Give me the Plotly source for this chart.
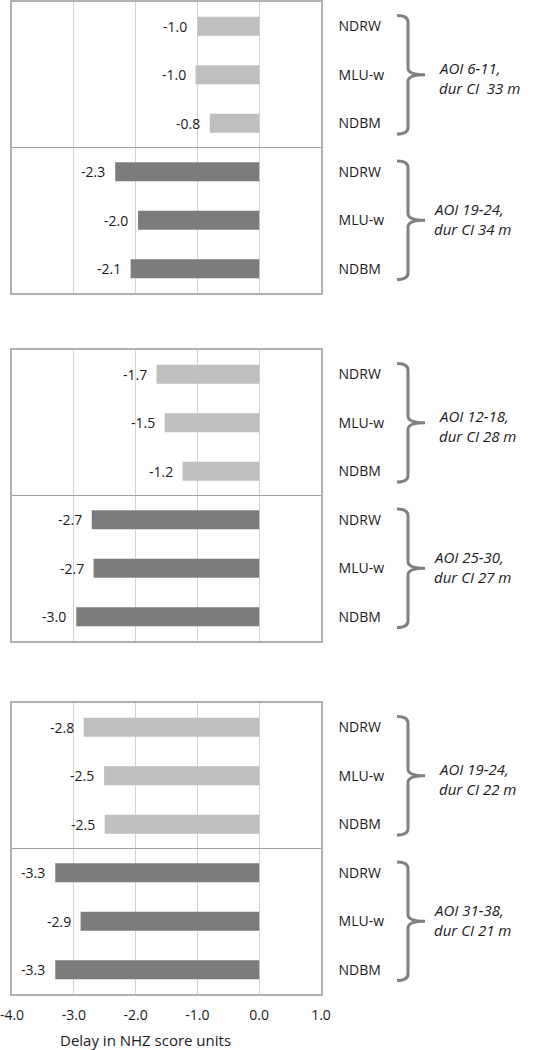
import plotly.graph_objects as go

# ---- data ----
categories = ["NDRW", "MLU-w", "NDBM", "NDRW", "MLU-w", "NDBM"]
panel1_values = [-1.00, -1.03, -0.80, -2.33, -1.96, -2.08]
panel2_values = [-1.66, -1.53, -1.24, -2.71, -2.68, -2.96]
panel3_values = [-2.84, -2.51, -2.50, -3.30, -2.89, -3.30]
panel_values = [panel1_values, panel2_values, panel3_values]
group_labels = [
    ["AOI 6-11,<br>dur CI\u00a0 33 m", "AOI 19-24,<br>dur CI 34 m"],
    ["AOI 12-18,<br>dur CI 28 m", "AOI 25-30,<br>dur CI 27 m"],
    ["AOI 19-24,<br>dur CI 22 m", "AOI 31-38,<br>dur CI 21 m"],
]
x_ticks = [-4.0, -3.0, -2.0, -1.0, 0.0, 1.0]
x_tick_labels = ["-4.0", "-3.0", "-2.0", "-1.0", "0.0", "1.0"]
x_title = "Delay in NHZ score units"

# ---- styling / layout ----
W, H = 547, 1050
FONT = "Open Sans"
TXT = "#1a1a1a"
light, dark = "#BFBFBF", "#7C7C7C"
box_color, grid_color = "#B0B0B0", "#D3D3D3"
x_dom = [12 / W, 321 / W]
panel_px = [(2, 293), (350, 641), (703, 994)]  # top, bottom in pixels
band_px = (293 - 2) / 6.0

fig = go.Figure()
positions = list(range(len(categories)))

for p, vals in enumerate(panel_values):
    xa = "x" if p == 0 else f"x{p+1}"
    ya = "y" if p == 0 else f"y{p+1}"
    colors = [light] * 3 + [dark] * 3
    fig.add_trace(go.Bar(
        x=vals, y=positions, orientation="h", width=0.39,
        marker=dict(color=colors, line=dict(width=0)),
        xaxis=xa, yaxis=ya, showlegend=False, hoverinfo="x",
    ))
    top, bot = panel_px[p]
    xkey = "xaxis" if p == 0 else f"xaxis{p+1}"
    ykey = "yaxis" if p == 0 else f"yaxis{p+1}"
    fig.layout[xkey] = dict(
        domain=x_dom, range=[x_ticks[0], x_ticks[-1]], tickvals=x_ticks,
        ticktext=x_tick_labels, showgrid=True, gridcolor=grid_color, gridwidth=1,
        zeroline=False, showline=True, mirror=True, linecolor=box_color,
        linewidth=1.5, ticks="", showticklabels=(p == 2), anchor=ya,
        automargin=False, ticklabeloverflow="allow",
        tickfont=dict(family=FONT, size=14, color=TXT), ticklabelstandoff=7,
        fixedrange=True,
    )
    fig.layout[ykey] = dict(
        domain=[1 - bot / H, 1 - top / H], range=[5.5, -0.5],
        tickvals=positions, ticktext=categories, side="right",
        showgrid=False, zeroline=False, showline=True, mirror=True,
        linecolor=box_color, linewidth=1.5, ticks="", anchor=xa,
        automargin=False, ticklabeloverflow="allow",
        tickfont=dict(family=FONT, size=14, color=TXT), ticklabelstandoff=13,
        fixedrange=True,
    )
    # separator between the two groups
    fig.add_shape(type="line", xref=f"{xa} domain", yref=ya, x0=0, x1=1,
                  y0=2.5, y1=2.5, line=dict(color="#A0A0A0", width=1.2))
    # data labels
    for v, pos in zip(vals, positions):
        fig.add_annotation(x=v, y=pos, xref=xa, yref=ya, text=f"{v:.1f}",
                           showarrow=False, xanchor="right", xshift=-8,
                           font=dict(family=FONT, size=14, color=TXT))
    # braces + group labels
    for g in range(2):
        i0 = g * 3
        yt, yb, ym = i0 - 0.22, i0 + 2 + 0.22, i0 + 1
        xl, xv, xt = 397 / W, 408 / W, 425 / W
        r = 0.14
        path = (f"M {xl},{yt} Q {xv},{yt} {xv},{yt + r} "
                f"L {xv},{ym - r} Q {xv},{ym} {xt},{ym} "
                f"Q {xv},{ym} {xv},{ym + r} "
                f"L {xv},{yb - r} Q {xv},{yb} {xl},{yb}")
        fig.add_shape(type="path", xref="paper", yref=ya, path=path,
                      line=dict(color="#808080", width=3))
        lines = group_labels[p][g].split("<br>")
        center_shift = (3.0 if g == 0 else -1.5) / band_px
        text_x = (438 if g == 0 else 433) / W
        for k, line in enumerate(lines):
            dy = (-10.0 if k == 0 else 10.0) / band_px
            fig.add_annotation(x=text_x, y=ym + center_shift + dy,
                               xref="paper", yref=ya,
                               text=f"<i>{line}</i>", borderpad=0,
                               showarrow=False, xanchor="left",
                               yanchor="middle", align="left",
                               font=dict(family=FONT, size=15, color=TXT))

fig.add_annotation(x=145 / W, y=1 - 1040 / H, xref="paper", yref="paper",
                   text=x_title, showarrow=False, xanchor="center",
                   yanchor="middle",
                   font=dict(family=FONT, size=15, color=TXT))

fig.update_layout(width=W, height=H, margin=dict(l=0, r=0, t=0, b=0),
                  paper_bgcolor="white", plot_bgcolor="white",
                  bargap=0.6)
fig.write_html("out.html", config={"displayModeBar": False},
               post_script="document.body.style.margin='0';")
